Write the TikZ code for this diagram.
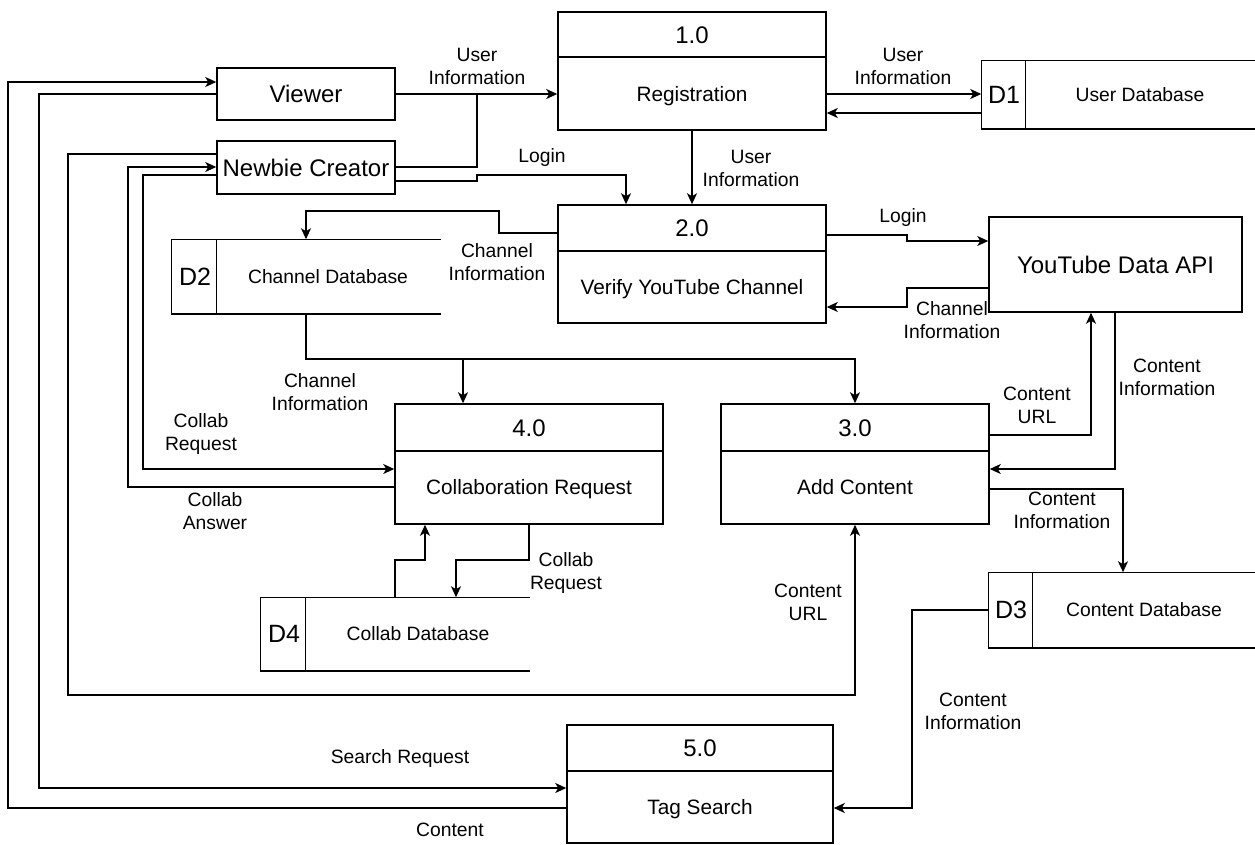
\documentclass[tikz,border=0pt]{standalone}
\usepackage{fontspec}
\setmainfont{Liberation Sans}
\usetikzlibrary{arrows.meta}
\begin{document}
\begin{tikzpicture}[x=1pt,y=-1pt,
  line width=1.5pt,
  flow/.style={-{Stealth[length=11pt,width=10pt,inset=3pt]}},
  box/.style={draw, rectangle, inner sep=0pt},
  big/.style={font=\fontsize{24}{28}\selectfont, text height=17.2pt, text depth=0pt, inner sep=0pt},
  sid/.style={font=\fontsize{25}{29}\selectfont, text height=17.9pt, text depth=0pt, inner sep=0pt},
  pname/.style={font=\fontsize{20.8}{25}\selectfont, text height=14.9pt, text depth=0pt, inner sep=0pt},
  sname/.style={font=\fontsize{19.3}{23}\selectfont, text height=13.8pt, text depth=0pt, inner sep=0pt},
  lbl/.style={font=\fontsize{19.3}{23}\selectfont, align=center, inner sep=0pt},
  store/.style={inner sep=0pt},
]
\fill[white] (0,0) rectangle (1255,844);
\useasboundingbox (0,0) rectangle (1255,844);

% ---------- external entities ----------
\node[box, big, minimum width=178pt, minimum height=52pt] (viewer) at (306,94) {Viewer};
\node[box, big, minimum width=178pt, minimum height=53pt] (newbie) at (306,167.5) {Newbie Creator};
\node[box, big, minimum width=253pt, minimum height=95pt] (api) at (1115.5,264.5) {YouTube Data API};

% ---------- processes ----------
\node[box, minimum width=268pt, minimum height=118pt] (reg) at (692,71) {};
\draw (reg.west |- 0,57) -- (reg.east |- 0,57);
\node[big] (regno) at (692,34.5) {1.0};
\node[pname] (regname) at (692,94) {Registration};

\node[box, minimum width=268pt, minimum height=118pt] (ver) at (692,264) {};
\draw (ver.west |- 0,251) -- (ver.east |- 0,251);
\node[big] (verno) at (692,228) {2.0};
\node[pname] (vername) at (692,287) {Verify YouTube Channel};

\node[box, minimum width=268pt, minimum height=120pt] (add) at (855,464) {};
\draw (add.west |- 0,451) -- (add.east |- 0,451);
\node[big] (addno) at (855,428) {3.0};
\node[pname] (addname) at (855,487) {Add Content};

\node[box, minimum width=268pt, minimum height=120pt] (collab) at (529,464) {};
\draw (collab.west |- 0,451) -- (collab.east |- 0,451);
\node[big] (collabno) at (529,428) {4.0};
\node[pname] (collabname) at (529,487) {Collaboration Request};

\node[box, minimum width=266pt, minimum height=118pt] (tag) at (700,784) {};
\draw (tag.west |- 0,771) -- (tag.east |- 0,771);
\node[big] (tagno) at (700,748) {5.0};
\node[pname] (tagname) at (700,807) {Tag Search};

% ---------- data stores (open on the right) ----------
\node[store, minimum width=273pt, minimum height=67pt] (d1) at (1118.5,94.5) {};
\draw (d1.north east) -- (d1.north west) -- (d1.south west) -- (d1.south east);
\draw ([xshift=44pt]d1.north west) -- ([xshift=44pt]d1.south west);
\node[sid] (d1id) at (1004,94.5) {D1};
\node[sname] (d1name) at (1140,94.5) {User Database};

\node[store, minimum width=268pt, minimum height=73pt] (d2) at (306,276.5) {};
\draw (d2.north east) -- (d2.north west) -- (d2.south west) -- (d2.south east);
\draw ([xshift=45pt]d2.north west) -- ([xshift=45pt]d2.south west);
\node[sid] (d2id) at (195,276.5) {D2};
\node[sname] (d2name) at (328,276.5) {Channel Database};

\node[store, minimum width=266pt, minimum height=74pt] (d3) at (1122,610) {};
\draw (d3.north east) -- (d3.north west) -- (d3.south west) -- (d3.south east);
\draw ([xshift=44pt]d3.north west) -- ([xshift=44pt]d3.south west);
\node[sid] (d3id) at (1011,610) {D3};
\node[sname] (d3name) at (1144,610) {Content Database};

\node[store, minimum width=268pt, minimum height=72pt] (d4) at (395,634) {};
\draw (d4.north east) -- (d4.north west) -- (d4.south west) -- (d4.south east);
\draw ([xshift=45pt]d4.north west) -- ([xshift=45pt]d4.south west);
\node[sid] (d4id) at (284,634) {D4};
\node[sname] (d4name) at (418,634) {Collab Database};

% ---------- data flows ----------
\coordinate (j1) at (477,94);
\draw[flow] (viewer.east) -- (reg.west |- viewer.east);
\draw (newbie.east |- 0,167) -| (j1);
\draw[flow] (newbie.east |- 0,181) -- (477,181) -- (477,175) -- (626,175) -- (ver.north -| 626,0);
\draw[flow] (reg.south) -- (ver.north);
\draw[flow] (reg.east |- 0,94) -- (d1.west |- 0,94);
\draw[flow] (d1.west |- 0,113) -- (reg.east |- 0,113);
\draw[flow] (ver.west |- 0,233) -- (499,233) -- (499,211) -- (306,211) -- (d2.north);
\draw[flow] (ver.east |- 0,235) -- (907,235) -- (907,241) -- (api.west |- 0,241);
\draw[flow] (api.west |- 0,288) -- (907,288) -- (907,307) -- (ver.east |- 0,307);
\draw[flow] (d2.south) -- (306,359) -- (add.north |- 0,359) -- (add.north);
\draw[flow] (463,359) -- (collab.north -| 463,0);
\draw[flow] (add.east |- 0,435) -- (1091,435) -- (api.south -| 1091,0);
\draw[flow] (api.south -| 1115,0) -- (1115,469) -- (add.east |- 0,469);
\draw[flow] (add.east |- 0,489) -- (1123,489) -- (d3.north -| 1123,0);
\draw[flow] (d3.west) -- (912,610) -- (912,808) -- (tag.east |- 0,808);
\draw[flow] (tag.west |- 0,808) -- (8,808) -- (8,82) -- (viewer.west |- 0,82);
\draw[flow] (viewer.west) -- (39,94) -- (39,788) -- (tag.west |- 0,788);
\draw[flow] (newbie.west |- 0,154) -- (68,154) -- (68,695) -- (add.south |- 0,695) -- (add.south);
\draw[flow] (collab.west |- 0,487) -- (128,487) -- (128,167) -- (newbie.west |- 0,167);
\draw[flow] (newbie.west |- 0,175) -- (143,175) -- (143,469) -- (collab.west |- 0,469);
\draw[flow] (d4.north) -- (395,560) -- (425,560) -- (collab.south -| 425,0);
\draw[flow] (collab.south) -- (529,560) -- (456,560) -- (d4.north -| 456,0);

% ---------- flow labels ----------
\node[lbl] (l1) at (477,66) {User\\Information};
\node[lbl] (l2) at (903,66) {User\\Information};
\node[lbl] (l3) at (542,158) {Login};
\node[lbl] (l4) at (751,168) {User\\Information};
\node[lbl] (l5) at (497,262) {Channel\\Information};
\node[lbl] (l6) at (903,218) {Login};
\node[lbl] (l7) at (952,320) {Channel\\Information};
\node[lbl] (l8) at (320,392) {Channel\\Information};
\node[lbl] (l9) at (201,434) {Collab\\Request};
\node[lbl] (l10) at (215,511) {Collab\\Answer};
\node[lbl] (l11) at (566,573) {Collab\\Request};
\node[lbl] (l12) at (1037,405) {Content\\URL};
\node[lbl] (l13) at (1167,377) {Content\\Information};
\node[lbl] (l14) at (1062,510) {Content\\Information};
\node[lbl] (l15) at (808,602) {Content\\URL};
\node[lbl] (l16) at (973,711) {Content\\Information};
\node[lbl] (l17) at (400,758) {Search Request};
\node[lbl] (l18) at (450,830) {Content};
\end{tikzpicture}
\end{document}
